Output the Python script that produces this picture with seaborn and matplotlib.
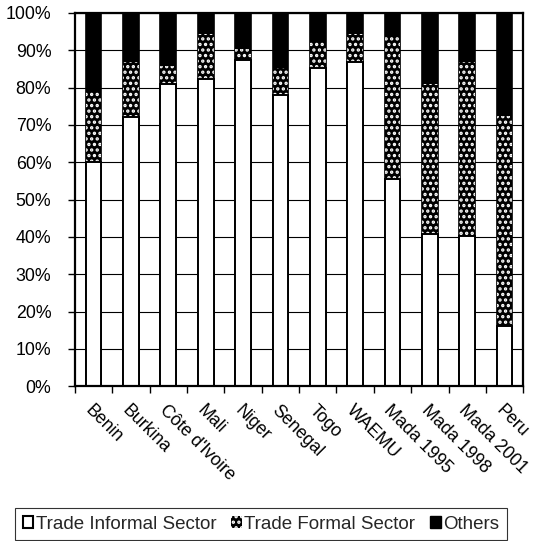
import numpy as np
import pandas as pd
import matplotlib
matplotlib.use("Agg")
import matplotlib.pyplot as plt
import seaborn as sns
from matplotlib.patches import Patch
from matplotlib.ticker import FixedLocator, PercentFormatter

# ==========================================
# data (percent of employment)
# ==========================================
countries = ["Benin", "Burkina", "Côte d'Ivoire", "Mali", "Niger", "Senegal",
             "Togo", "WAEMU", "Mada 1995", "Mada 1998", "Mada 2001", "Peru"]
trade_informal = [60.1, 72.2, 81.0, 82.2, 87.4, 78.0, 85.2, 86.8, 55.4, 40.9, 40.2, 16.1]
trade_formal = [19.1, 14.7, 4.9, 12.1, 2.9, 7.2, 7.1, 7.7, 38.2, 40.0, 46.6, 56.4]
others = [100 - a - b for a, b in zip(trade_informal, trade_formal)]

labels = ["Trade Informal Sector", "Trade Formal Sector", "Others"]

df = pd.DataFrame({
    "country": countries,
    "informal": trade_informal,
    "formal": trade_formal,
    "others": others,
})
df["top_formal"] = df["informal"] + df["formal"]
df["top_all"] = df["top_formal"] + df["others"]

sns.set_theme(style="white")
plt.rcParams["font.family"] = ["Liberation Sans", "DejaVu Sans"]
plt.rcParams["hatch.linewidth"] = 1.6

fig = plt.figure(figsize=(5.35, 5.41), dpi=100)
ax = fig.add_axes([0.140, 0.286, 0.838, 0.690])

BW = 0.42
# stacked bars: draw the cumulative totals back to front
sns.barplot(data=df, x="country", y="top_all", color="black", saturation=1,
            width=BW, edgecolor="black", linewidth=1.2, errorbar=None, ax=ax)
n = len(ax.patches)
sns.barplot(data=df, x="country", y="top_formal", color="black", saturation=1,
            width=BW, edgecolor="white", linewidth=0, hatch="...", errorbar=None, ax=ax)
m = len(ax.patches)
sns.barplot(data=df, x="country", y="informal", color="white", saturation=1,
            width=BW, edgecolor="black", linewidth=1.4, errorbar=None, ax=ax)
for i, p in enumerate(ax.patches):
    p.set_zorder(3 if i < n else (4 if i < m else 5))

ax.set_ylim(0, 100)
ax.set_xlim(-0.5, len(countries) - 0.5)
ax.set_yticks(np.arange(0, 101, 10))
ax.yaxis.set_major_formatter(PercentFormatter(decimals=0))
ax.grid(axis="y", color="black", linewidth=0.8)
ax.set_axisbelow(True)
for gl in ax.get_ygridlines():
    gl.set_zorder(1)
ax.set_xlabel("")
ax.set_ylabel("")

for s in ax.spines.values():
    s.set_visible(True)
    s.set_color("black")
    s.set_linewidth(1.6)
    s.set_zorder(6)

ax.tick_params(axis="y", which="major", left=True, length=5, width=1, color="black",
               pad=12, labelsize=12.8, labelcolor="black")
ax.xaxis.set_minor_locator(FixedLocator(np.arange(-0.5, len(countries), 1)))
ax.tick_params(axis="x", which="minor", bottom=True, length=5, width=1, color="black")
ax.tick_params(axis="x", which="major", bottom=False, length=0, pad=11,
               labelsize=12.8, labelcolor="black")
for lab in ax.get_xticklabels():
    lab.set_rotation(-45)
    lab.set_ha("left")
    lab.set_va("top")
    lab.set_rotation_mode("anchor")

handles = [
    Patch(facecolor="white", edgecolor="black", linewidth=1.5),
    Patch(facecolor="black", edgecolor="white", linewidth=0, hatch="..."),
    Patch(facecolor="black", edgecolor="black"),
]
leg = fig.legend(handles, labels, loc="center", bbox_to_anchor=(0.488, 0.031), ncol=3,
                 frameon=True, fancybox=False, edgecolor="black", fontsize=13.5,
                 handlelength=0.55, handleheight=0.55, handletextpad=0.15,
                 columnspacing=0.8, borderpad=0.4)
leg.get_frame().set_linewidth(0.8)

fig.savefig("out.png", dpi=100)
